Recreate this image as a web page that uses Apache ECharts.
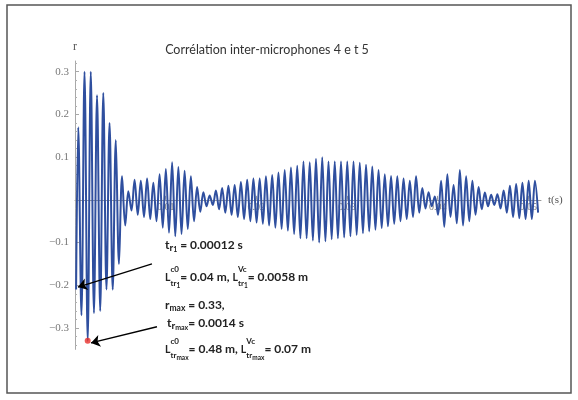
<!DOCTYPE html>
<html><head><meta charset="utf-8">
<script src="https://cdn.jsdelivr.net/npm/echarts@6/dist/echarts.min.js"></script>
<style>html,body{margin:0;padding:0;background:#fff}#c{width:578px;height:400px}</style>
</head><body><div id="c"></div>
<script>
// time of each extremum (ms)
const times_ms = [0.12,
0.36,0.71,1.05,1.40,1.74,2.09,2.43,2.78,3.12,3.47,3.81,4.16,4.50,4.85,5.19,5.54,5.88,6.23,6.57,6.92,
7.26,7.61,7.95,8.30,8.64,8.99,9.33,9.68,10.02,10.37,10.71,11.06,11.40,11.75,12.09,12.44,12.78,13.13,13.47,13.82,
14.16,14.51,14.85,15.20,15.54,15.89,16.23,16.58,16.92,17.27,17.61,17.96,18.30,18.65,18.99,19.34,19.68,20.03,20.37,20.72,
21.06,21.41,21.75,22.10,22.44,22.79,23.13,23.48,23.82,24.17,24.51,24.86,25.20,25.55,25.89,26.24,26.58,26.93,27.27,27.62,
27.96,28.31,28.65,29.00,29.34,29.69,30.03,30.38,30.72,31.07,31.41,31.76,32.10,32.45,32.79,33.14,33.48,33.83,34.17,34.52,
34.86,35.21,35.55,35.90,36.24,36.59,36.93,37.28,37.62,37.97,38.31,38.66,39.00,39.35,39.69,40.04,40.38,40.73,41.07,41.42,
41.76,42.11,42.45,42.80,43.14,43.49,43.83,44.18,44.52,44.87,45.21,45.56,45.90,46.25,46.59,46.94,47.28,47.63,47.97,48.32,
48.66,49.01,49.35,49.70,50.04,50.39,50.73,51.08];
// correlation value at each extremum
const r_values = [-0.21,
0.17,-0.27,0.30,-0.33,0.30,-0.265,0.245,-0.26,0.25,-0.21,0.18,-0.21,0.14,-0.15,0.055,-0.06,0.02,-0.025,0.047,-0.035,
0.045,-0.04,0.05,-0.045,0.04,-0.05,0.06,-0.065,0.072,-0.077,0.088,-0.085,0.077,-0.08,0.068,-0.068,0.055,-0.05,0.03,-0.028,
0.018,-0.015,0.01,-0.012,0.022,-0.022,0.028,-0.03,0.033,-0.035,0.035,-0.04,0.042,-0.045,0.047,-0.05,0.05,-0.053,0.05,-0.056,
0.055,-0.06,0.058,-0.065,0.064,-0.068,0.07,-0.072,0.076,-0.08,0.08,-0.09,0.09,-0.09,0.088,-0.095,0.096,-0.1,0.1,-0.097,
0.09,-0.092,0.09,-0.09,0.09,-0.088,0.09,-0.085,0.09,-0.082,0.087,-0.078,0.082,-0.074,0.078,-0.07,0.07,-0.066,0.06,-0.062,
0.056,-0.056,0.055,-0.05,0.05,-0.045,0.045,-0.04,0.055,-0.03,0.028,-0.02,0.018,-0.015,0.008,-0.035,0.045,-0.063,0.06,-0.04,
0.035,-0.055,0.07,-0.06,0.055,-0.05,0.045,-0.035,0.03,-0.022,0.017,-0.015,0.012,-0.012,0.013,-0.02,0.022,-0.03,0.033,-0.04,
0.037,-0.043,0.04,-0.045,0.045,-0.045,0.045,-0.03];
const peakPoint = [1.40, -0.33];       // t_rmax (ms), r
const xTickValues = [10, 20, 30, 40, 50];  // ms
const yTickValues = [-0.3, -0.2, -0.1, 0.1, 0.2, 0.3];
const yMinorTicks = [-0.34,-0.32,-0.28,-0.26,-0.24,-0.22,-0.18,-0.16,-0.14,-0.12,-0.08,-0.06,-0.04,-0.02,
  0.02,0.04,0.06,0.08,0.12,0.14,0.16,0.18,0.22,0.24,0.26,0.28,0.32];
const titleText = 'Corrélation inter-microphones 4 e t 5';

const chart = echarts.init(document.getElementById('c'));
const SERIF = 'Liberation Serif';
const FONT = 'Lato';
const WEIGHT = 'bold';
const ctx = document.createElement('canvas').getContext('2d');
function tw(t, s){ ctx.font = WEIGHT + ' ' + s + 'px ' + FONT; return ctx.measureText(t).width; }
function eq(x0, y0, cols){
  const out = []; let x = x0;
  cols.forEach(col => {
    let maxw = 0;
    col.forEach(run => {
      let xx = x;
      run.forEach(([t, s, dy]) => {
        out.push({type:'text', z:100, style:{text:t, x:xx, y:y0+dy, fontSize:s, fontFamily:FONT, fontWeight:WEIGHT,
          fill:'#222', verticalAlign:'middle', textVerticalAlign:'middle'}});
        xx += tw(t, s);
      });
      maxw = Math.max(maxw, xx - x);
    });
    x += maxw;
  });
  return out;
}
const M = 12, LS = 10.5, SUP = 8, SS = 6.5;
let texts = [];
texts = texts.concat(eq(165, 245, [[[['t',M,0],['r',10,2.5],['1',7,5]]], [[[' = 0.00012 s',M,0]]]]));
texts = texts.concat(eq(165, 277, [
  [[['L',LS,0.5]]],
  [[['c0',SUP,-7.5]], [['tr',SUP,6],['1',SS,8.5]]],
  [[['= 0.04 m, ',M,0]]],
  [[['L',LS,0.5]]],
  [[['Vc',SUP,-7.5]], [['tr',SUP,6],['1',SS,8.5]]],
  [[['= 0.0058 m',M,0]]]
]));
texts = texts.concat(eq(165, 305, [[[['r',M,0],['max',8.5,3]]], [[[' = 0.33,',M,0]]]]));
texts = texts.concat(eq(167, 323, [[[['t',M,0],['r',10,2.5],['max',7,5]]], [[['= 0.0014 s',M,0]]]]));
texts = texts.concat(eq(165, 349, [
  [[['L',LS,0.5]]],
  [[['c0',SUP,-7.5]], [['tr',SUP,6],['max',SS,8.5]]],
  [[['= 0.48 m, ',M,0]]],
  [[['L',LS,0.5]]],
  [[['Vc',SUP,-7.5]], [['tr',SUP,6],['max',SS,8.5]]],
  [[['= 0.07 m',M,0]]]
]));

const Y_MIN = -0.35, Y_MAX = 0.325;
const G_TOP = 61, G_H = 288.4;
const zeroOffset = G_H * Y_MAX / (Y_MAX - Y_MIN);

const option = {
  animation: false,
  backgroundColor: '#fff',
  grid: [
    {left: 75, right: 37, top: G_TOP, height: G_H},
    {left: 75, right: 37, top: G_TOP, height: zeroOffset}
  ],
  xAxis: [{
    gridIndex: 0, type: 'value', min: 0, max: 51.4, show: false
  }, {
    gridIndex: 1, type: 'value', min: 0, max: 51.4, position: 'bottom',
    name: 't(s)', nameLocation: 'end', nameGap: 7,
    nameTextStyle: {fontFamily: SERIF, fontSize: 11, color: '#555', verticalAlign: 'middle'},
    axisLine: {show: true, onZero: false, lineStyle: {color: '#9a9a9a', width: 1}},
    axisTick: {inside: true, length: 4, lineStyle: {color: '#9a9a9a'}, customValues: xTickValues},
    axisLabel: {customValues: xTickValues, margin: 3, fontFamily: SERIF, fontSize: 10, color: '#777',
      formatter: v => (v / 1000).toFixed(2)},
    splitLine: {show: false}
  }],
  yAxis: [{
    gridIndex: 0, type: 'value', min: Y_MIN, max: Y_MAX,
    name: 'r', nameLocation: 'end', nameGap: 8,
    nameTextStyle: {fontFamily: SERIF, fontSize: 12, color: '#555', align: 'center'},
    axisLine: {show: true, onZero: false, lineStyle: {color: '#a8a8a8', width: 1}},
    axisTick: {inside: true, length: 4, lineStyle: {color: '#a8a8a8'}, customValues: yTickValues},
    axisLabel: {customValues: yTickValues, margin: 6, fontFamily: SERIF, fontSize: 11, color: '#777',
      formatter: v => v.toFixed(1).replace('-', '\u2212')},
    splitLine: {show: false}
  }, {
    gridIndex: 0, type: 'value', min: Y_MIN, max: Y_MAX, position: 'left',
    axisLine: {show: false, onZero: false},
    axisTick: {show: true, inside: true, length: 2, lineStyle: {color: '#b0b0b0'}, customValues: yMinorTicks},
    axisLabel: {show: false}, splitLine: {show: false}
  }, {
    gridIndex: 1, type: 'value', min: 0, max: 1, show: false
  }],
  series: [{
    type: 'line', xAxisIndex: 0, yAxisIndex: 0, z: 3,
    data: times_ms.map((t, i) => [t, r_values[i]]),
    showSymbol: false, smooth: 0.35,
    lineStyle: {color: '#2f4f9f', width: 2}
  }, {
    type: 'scatter', xAxisIndex: 0, yAxisIndex: 0, z: 6, data: [peakPoint], symbolSize: 6,
    itemStyle: {color: '#e8302b'}
  }, {
    type: 'lines', coordinateSystem: 'cartesian2d', xAxisIndex: 0, yAxisIndex: 0, z: 7,
    symbol: ['none', 'arrow'], symbolSize: 9,
    lineStyle: {color: '#000', width: 1.3, opacity: 1},
    data: [
      {coords: [[8.49, -0.15], [0.33, -0.204]]},
      {coords: [[9.04, -0.297], [1.76, -0.335]]}
    ]
  }],
  graphic: [
    {type: 'rect', z: 50, shape: {x: 7, y: 5, width: 564, height: 388},
     style: {fill: 'none', stroke: '#555', lineWidth: 1.5}},
    {type: 'text', z: 100, style: {text: titleText, x: 267, y: 50, fontSize: 12.5, fontFamily: FONT,
      fill: '#333', align: 'center', textAlign: 'center', verticalAlign: 'middle', textVerticalAlign: 'middle'}}
  ].concat(texts)
};
chart.setOption(option);
</script></body></html>
